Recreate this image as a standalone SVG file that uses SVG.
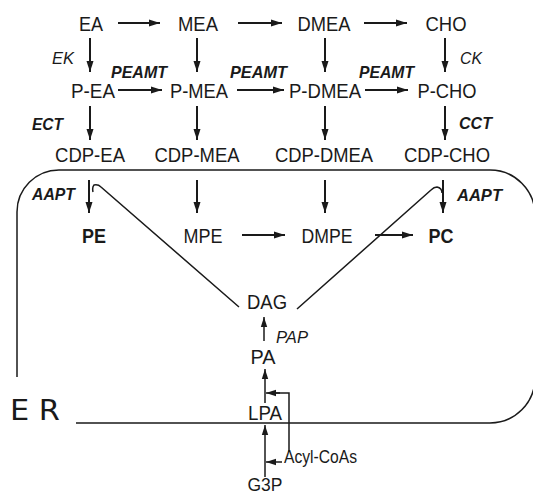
<svg xmlns="http://www.w3.org/2000/svg" width="533" height="494" viewBox="0 0 533 494">
<defs>
<style>
.n{font-family:"Liberation Sans",Arial,sans-serif;font-size:21px;fill:#1a1a1a;text-anchor:middle}
.b{font-weight:bold}
.e{font-family:"Liberation Sans",Arial,sans-serif;font-size:17px;fill:#1a1a1a;font-style:italic}
.eb{font-weight:bold}
.a{stroke:#1a1a1a;stroke-width:2;fill:none;marker-end:url(#ah)}
.t{stroke:#1a1a1a;stroke-width:1.5;fill:none}
.th{stroke:#1a1a1a;stroke-width:1.5;fill:none;marker-end:url(#ah2)}
</style>
<marker id="ah" markerUnits="userSpaceOnUse" markerWidth="12" markerHeight="8" refX="11" refY="4" orient="auto"><path d="M0,0.5 L11,4 L0,7.5 z" fill="#1a1a1a"/></marker>
<marker id="ah2" markerUnits="userSpaceOnUse" markerWidth="12" markerHeight="8" refX="10" refY="4" orient="auto"><path d="M0,0.8 L10,4 L0,7.2 z" fill="#1a1a1a"/></marker>
</defs>
<rect width="533" height="494" fill="#fff"/>
<g id="er">
<path class="t" d="M17 377 V212 A42 42 0 0 1 59 170 H490 A45 45 0 0 1 535 215"/>
<path class="t" d="M76 423 H490 A45 45 0 0 0 535 378"/>
<text x="10" y="420" font-family="'DejaVu Sans',sans-serif" font-size="28" fill="#1a1a1a" textLength="50" lengthAdjust="spacingAndGlyphs">E R</text>
</g>
<g id="connectors">
<path class="a" d="M118 23 H160"/>
<path class="a" d="M238 23 H282"/>
<path class="a" d="M364 23 H407"/>
<path class="a" d="M118 90 H162"/>
<path class="a" d="M237 90 H284"/>
<path class="a" d="M365 90 H408"/>
<path class="a" d="M242 235 H285"/>
<path class="a" d="M375 235 H413"/>
<path class="a" d="M90 38 V72"/>
<path class="a" d="M197 38 V72"/>
<path class="a" d="M325 38 V72"/>
<path class="a" d="M445 38 V72"/>
<path class="a" d="M90 106 V140"/>
<path class="a" d="M197 106 V140"/>
<path class="a" d="M325 106 V140"/>
<path class="a" d="M445 106 V140"/>
<path class="a" d="M89 180 V213"/>
<path class="a" d="M197 180 V213"/>
<path class="a" d="M325 180 V213"/>
<path class="a" d="M443 180 V213"/>
<path class="t" d="M239 307 L101 187 Q98 184 94 185 Q92 187 93 192"/>
<path class="t" d="M297 309 L431 190 Q434 187 437 187 Q442 188 442 193"/>
<path class="th" d="M264 341 V317"/>
<path class="th" d="M265 403 V369"/>
<path class="th" d="M265 477 V425"/>
<path class="t" d="M289 452 V393 H276"/>
<path class="th" d="M280 393 H266"/>
<path class="th" d="M282 462 H266"/>
</g>
<g id="EA"><text class="n" x="91" y="31" textLength="24" lengthAdjust="spacingAndGlyphs">EA</text></g>
<g id="MEA"><text class="n" x="198" y="31" textLength="40" lengthAdjust="spacingAndGlyphs">MEA</text></g>
<g id="DMEA"><text class="n" x="324" y="31" textLength="53" lengthAdjust="spacingAndGlyphs">DMEA</text></g>
<g id="CHO"><text class="n" x="446" y="31" textLength="41" lengthAdjust="spacingAndGlyphs">CHO</text></g>
<g id="P-EA"><text class="n" x="93" y="98" textLength="44" lengthAdjust="spacingAndGlyphs">P-EA</text></g>
<g id="P-MEA"><text class="n" x="199" y="98" textLength="58" lengthAdjust="spacingAndGlyphs">P-MEA</text></g>
<g id="P-DMEA"><text class="n" x="325" y="98" textLength="72" lengthAdjust="spacingAndGlyphs">P-DMEA</text></g>
<g id="P-CHO"><text class="n" x="447" y="98" textLength="59" lengthAdjust="spacingAndGlyphs">P-CHO</text></g>
<g id="CDP-EA"><text class="n" x="90" y="162" textLength="70" lengthAdjust="spacingAndGlyphs">CDP-EA</text></g>
<g id="CDP-MEA"><text class="n" x="197" y="162" textLength="85" lengthAdjust="spacingAndGlyphs">CDP-MEA</text></g>
<g id="CDP-DMEA"><text class="n" x="324" y="162" textLength="98" lengthAdjust="spacingAndGlyphs">CDP-DMEA</text></g>
<g id="CDP-CHO"><text class="n" x="447" y="162" textLength="86" lengthAdjust="spacingAndGlyphs">CDP-CHO</text></g>
<g id="PE"><text class="n b" x="94" y="243" textLength="24" lengthAdjust="spacingAndGlyphs">PE</text></g>
<g id="MPE"><text class="n" x="203" y="243" textLength="39" lengthAdjust="spacingAndGlyphs">MPE</text></g>
<g id="DMPE"><text class="n" x="327" y="243" textLength="51" lengthAdjust="spacingAndGlyphs">DMPE</text></g>
<g id="PC"><text class="n b" x="441" y="243" textLength="25" lengthAdjust="spacingAndGlyphs">PC</text></g>
<g id="DAG"><text class="n" x="267" y="309" textLength="40" lengthAdjust="spacingAndGlyphs">DAG</text></g>
<g id="PA"><text class="n" x="263" y="364" textLength="25" lengthAdjust="spacingAndGlyphs">PA</text></g>
<g id="LPA"><text class="n" x="265" y="420" textLength="34" lengthAdjust="spacingAndGlyphs">LPA</text></g>
<g id="G3P"><text class="n" x="265" y="491" style="font-size:19px" textLength="35" lengthAdjust="spacingAndGlyphs">G3P</text></g>
<g id="Acyl-CoAs"><text class="n" x="284" y="463" style="text-anchor:start;font-size:19px" textLength="73" lengthAdjust="spacingAndGlyphs">Acyl-CoAs</text></g>
<g id="labels">
<text class="e" x="52" y="64" textLength="22" lengthAdjust="spacingAndGlyphs">EK</text>
<text class="e" x="460" y="64" textLength="22" lengthAdjust="spacingAndGlyphs">CK</text>
<text class="e eb" x="111" y="78" textLength="56" lengthAdjust="spacingAndGlyphs">PEAMT</text>
<text class="e eb" x="230" y="78" textLength="57" lengthAdjust="spacingAndGlyphs">PEAMT</text>
<text class="e eb" x="359" y="78" textLength="55" lengthAdjust="spacingAndGlyphs">PEAMT</text>
<text class="e eb" x="32" y="130" textLength="31" lengthAdjust="spacingAndGlyphs">ECT</text>
<text class="e eb" x="459" y="129" textLength="33" lengthAdjust="spacingAndGlyphs">CCT</text>
<text class="e eb" x="32" y="200" textLength="43" lengthAdjust="spacingAndGlyphs">AAPT</text>
<text class="e eb" x="457" y="201" textLength="45" lengthAdjust="spacingAndGlyphs">AAPT</text>
<text class="e" x="276" y="343" textLength="32" lengthAdjust="spacingAndGlyphs">PAP</text>
</g>
</svg>
